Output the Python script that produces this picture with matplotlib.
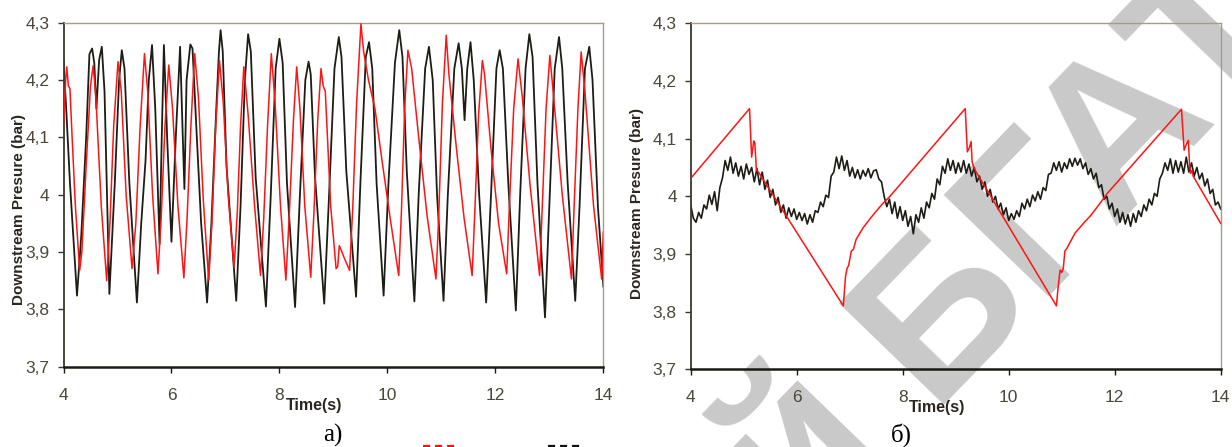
import numpy as np
import matplotlib
matplotlib.use("Agg")
import matplotlib.pyplot as plt
from matplotlib.ticker import FixedLocator, FuncFormatter
from matplotlib.lines import Line2D

W, H = 1232, 447

# ---- panel a): black and red pressure traces (time s, pressure bar)
black_a_t = [4.00, 4.05, 4.12, 4.25, 4.33, 4.42, 4.48, 4.53, 4.57, 4.61, 4.66, 4.71, 4.76, 4.85,
             4.95, 5.03, 5.08, 5.13, 5.22, 5.36, 5.44, 5.52, 5.58, 5.64, 5.70, 5.78, 5.82, 5.86,
             5.92, 6.00, 6.08, 6.16, 6.21, 6.24, 6.28, 6.35, 6.39, 6.47, 6.55, 6.66, 6.74, 6.83,
             6.88, 6.91, 6.95, 7.02, 7.20, 7.28, 7.36, 7.42, 7.47, 7.56, 7.75, 7.84, 7.93, 8.00,
             8.06, 8.14, 8.29, 8.38, 8.48, 8.54, 8.58, 8.66, 8.83, 8.92, 9.02, 9.10, 9.15, 9.24,
             9.42, 9.50, 9.60, 9.66, 9.72, 9.80, 9.93, 10.02, 10.14, 10.22, 10.28, 10.36, 10.50,
             10.58, 10.70, 10.77, 10.84, 10.92, 11.04, 11.12, 11.24, 11.32, 11.38, 11.43, 11.48,
             11.54, 11.60, 11.70, 11.83, 11.92, 12.02, 12.08, 12.14, 12.24, 12.38, 12.46, 12.56,
             12.63, 12.69, 12.78, 12.92, 13.00, 13.10, 13.18, 13.24, 13.34, 13.48, 13.56, 13.66,
             13.74, 13.80, 13.90, 14.00]
black_a_p = [4.235, 4.15, 4.02, 3.824, 3.93, 4.10, 4.245, 4.255, 4.23, 4.15, 4.235, 4.258, 4.18, 3.827,
             4.02, 4.20, 4.252, 4.22, 4.02, 3.812, 3.95, 4.06, 4.20, 4.261, 4.15, 3.914, 4.10, 4.261,
             4.10, 3.918, 4.10, 4.258, 4.10, 4.01, 4.20, 4.262, 4.255, 4.10, 3.95, 3.812, 3.95, 4.15,
             4.25, 4.287, 4.25, 4.05, 3.815, 3.98, 4.20, 4.28, 4.25, 4.03, 3.805, 4.00, 4.22, 4.272,
             4.23, 4.02, 3.804, 4.00, 4.20, 4.232, 4.21, 4.03, 3.81, 4.00, 4.22, 4.275, 4.24, 4.04,
             3.822, 4.02, 4.24, 4.266, 4.22, 4.02, 3.824, 4.02, 4.23, 4.287, 4.24, 4.04, 3.814,
             4.00, 4.22, 4.258, 4.20, 4.00, 3.815, 4.00, 4.22, 4.264, 4.22, 4.13, 4.22,
             4.266, 4.20, 4.00, 3.812, 4.00, 4.22, 4.252, 4.22, 4.02, 3.798, 4.00, 4.22,
             4.28, 4.24, 4.02, 3.786, 3.98, 4.22, 4.275, 4.22, 4.02, 3.815, 3.98, 4.22,
             4.258, 4.20, 3.98, 3.84]

red_a_t = [4.00, 4.04, 4.06, 4.09, 4.12, 4.15, 4.22, 4.30, 4.34, 4.42, 4.50, 4.55, 4.60, 4.70,
           4.80, 4.86, 4.93, 5.01, 5.07, 5.16, 5.27, 5.34, 5.42, 5.50, 5.56, 5.65, 5.75, 5.81,
           5.88, 5.95, 6.02, 6.12, 6.23, 6.29, 6.36, 6.43, 6.50, 6.59, 6.69, 6.75, 6.82, 6.89,
           6.96, 7.05, 7.16, 7.22, 7.28, 7.34, 7.42, 7.54, 7.65, 7.71, 7.78, 7.85, 7.92, 8.02,
           8.12, 8.18, 8.26, 8.32, 8.38, 8.47, 8.58, 8.64, 8.71, 8.77, 8.81, 8.85, 8.95, 9.05,
           9.08, 9.11, 9.20, 9.30, 9.36, 9.43, 9.51, 9.56, 9.65, 9.77, 9.90, 10.05, 10.21,
           10.26, 10.32, 10.38, 10.45, 10.58, 10.74, 10.90, 10.95, 11.02, 11.09, 11.14, 11.28,
           11.42, 11.57, 11.62, 11.69, 11.76, 11.80, 11.92, 12.06, 12.21, 12.26, 12.34, 12.42,
           12.50, 12.64, 12.82, 12.87, 12.94, 13.01, 13.08, 13.24, 13.41, 13.46, 13.53, 13.59,
           13.66, 13.82, 13.97, 14.00]
red_a_p = [4.118, 4.20, 4.223, 4.19, 4.185, 4.12, 3.98, 3.868, 3.90, 4.05, 4.19, 4.225, 4.17, 3.98,
           3.85, 3.95, 4.12, 4.232, 4.18, 4.00, 3.871, 3.95, 4.12, 4.246, 4.18, 4.00, 3.862, 3.96,
           4.12, 4.226, 4.15, 3.98, 3.855, 3.96, 4.12, 4.246, 4.17, 3.99, 3.851, 3.95, 4.12, 4.234,
           4.16, 4.00, 3.873, 3.97, 4.12, 4.223, 4.14, 3.98, 3.859, 3.96, 4.12, 4.246, 4.16, 3.98,
           3.851, 3.96, 4.13, 4.223, 4.15, 3.98, 3.856, 3.97, 4.13, 4.22, 4.19, 4.18, 3.98, 3.871,
           3.875, 3.911, 3.89, 3.868, 3.98, 4.16, 4.298, 4.25, 4.20, 4.15, 4.06, 3.96, 3.859,
           3.97, 4.15, 4.252, 4.22, 4.10, 3.96, 3.853, 3.96, 4.16, 4.278, 4.21, 4.08,
           3.96, 3.859, 3.97, 4.14, 4.234, 4.21, 4.08, 3.95, 3.862, 3.98, 4.15, 4.237,
           4.17, 4.02, 3.859, 3.98, 4.15, 4.243, 4.17, 4.00, 3.853, 3.98, 4.15, 4.249,
           4.18, 3.98, 3.853, 3.935]

# ---- panel б): red sawtooth and noisy black trace
red_b_t = [4.00, 5.11, 5.15, 5.19, 5.21, 5.24, 5.28, 5.32, 6.88, 6.92, 6.95, 6.98, 7.03, 7.07,
           7.12, 7.25, 7.40, 7.60, 7.76, 9.18, 9.22, 9.26, 9.29, 9.31, 9.34, 9.40, 10.90, 10.93,
           10.97, 11.00, 11.03, 11.06, 11.10, 11.25, 11.40, 11.55, 11.70, 11.86, 13.26, 13.31,
           13.35, 13.39, 13.41, 13.43, 13.46, 13.48, 14.00]
red_b_p = [4.031, 4.152, 4.068, 4.096, 4.092, 4.045, 4.042, 4.036, 3.810, 3.860, 3.875, 3.880, 3.905, 3.908,
           3.925, 3.945, 3.963, 3.985, 4.000, 4.152, 4.077, 4.085, 4.095, 4.060, 4.050, 4.040, 3.810, 3.840,
           3.872, 3.868, 3.875, 3.905, 3.910, 3.936, 3.952, 3.967, 3.985, 4.005, 4.151, 4.080,
           4.090, 4.097, 4.060, 4.040, 4.045, 4.035, 3.953]

# black trace sampled every 0.05 s from 4 to 14 s
black_b_p = [
    3.985, 3.962, 3.955, 3.972, 3.962, 3.985, 3.978, 4.002, 3.986, 4.008,
    3.975, 4.015, 4.032, 4.062, 4.045, 4.068, 4.040, 4.058, 4.035, 4.052,
    4.030, 4.056, 4.038, 4.050, 4.025, 4.048, 4.020, 4.042, 4.012, 4.028,
    3.998, 4.012, 3.985, 3.998, 3.972, 3.985, 3.962, 3.980, 3.965, 3.978,
    3.960, 3.972, 3.958, 3.970, 3.952, 3.968, 3.955, 3.975, 3.972, 3.990,
    3.982, 4.002, 3.998, 4.035, 4.042, 4.068, 4.048, 4.070, 4.045, 4.062,
    4.035, 4.050, 4.032, 4.046, 4.030, 4.045, 4.035, 4.048, 4.032, 4.044,
    4.046, 4.030, 4.025, 4.000, 3.982, 3.995, 3.970, 3.990, 3.962, 3.982,
    3.958, 3.975, 3.948, 3.965, 3.935, 3.968, 3.955, 3.980, 3.962, 3.990,
    3.980, 4.005, 3.995, 4.030, 4.020, 4.052, 4.040, 4.065, 4.045, 4.062,
    4.040, 4.058, 4.042, 4.062, 4.040, 4.056, 4.035, 4.050, 4.025, 4.035,
    4.012, 4.025, 4.000, 4.012, 3.990, 4.000, 3.978, 3.988, 3.968, 3.980,
    3.958, 3.970, 3.960, 3.975, 3.965, 3.988, 3.978, 3.995, 3.982, 4.002,
    3.992, 4.008, 3.995, 4.015, 4.010, 4.038, 4.040, 4.058, 4.045, 4.060,
    4.042, 4.058, 4.048, 4.065, 4.052, 4.066, 4.054, 4.065, 4.048, 4.058,
    4.038, 4.048, 4.030, 4.040, 4.015, 4.020, 3.995, 4.000, 3.978, 3.988,
    3.965, 3.978, 3.955, 3.972, 3.952, 3.968, 3.948, 3.970, 3.955, 3.975,
    3.965, 3.985, 3.975, 3.995, 3.985, 4.005, 4.000, 4.030, 4.040, 4.058,
    4.045, 4.065, 4.040, 4.062, 4.042, 4.060, 4.040, 4.068, 4.042, 4.058,
    4.035, 4.050, 4.030, 4.040, 4.018, 4.030, 4.005, 4.012, 3.985, 3.990,
    3.978]
black_b_t = np.linspace(4, 14, len(black_b_p))

x_ticks = [4, 6, 8, 10, 12, 14]
y_ticks = [3.7, 3.8, 3.9, 4.0, 4.1, 4.2, 4.3]

BLACK = "#1e1c14"
RED = "#ff1414"
TICK_C = "#4d4738"
LABEL_C = "#2b2620"


def comma(v, pos):
    return ("%g" % round(v, 1)).replace(".", ",")


def style_axes(ax, lab_x, lab_y, time_x, time_y):
    ax.set_facecolor("none")
    ax.set_xlim(4, 14)
    ax.set_ylim(3.7, 4.3)
    ax.xaxis.set_major_locator(FixedLocator(x_ticks))
    ax.yaxis.set_major_locator(FixedLocator(y_ticks))
    ax.yaxis.set_major_formatter(FuncFormatter(comma))
    for s in ("top", "right"):
        ax.spines[s].set_color("#a39c88")
        ax.spines[s].set_linewidth(1.0)
    ax.spines["left"].set_color("#3a372c")
    ax.spines["left"].set_linewidth(1.3)
    ax.spines["bottom"].set_color("#1a1912")
    ax.spines["bottom"].set_linewidth(1.8)
    ax.tick_params(axis="y", direction="out", length=4, width=1.0, color="#3a372c",
                   pad=6, labelsize=12.5, labelcolor=TICK_C)
    ax.tick_params(axis="x", direction="out", length=4, width=1.0, color="#1a1912",
                   pad=11, labelsize=12.5, labelcolor=TICK_C)
    for lab in ax.get_xticklabels() + ax.get_yticklabels():
        lab.set_family("Liberation Sans")
    ax.set_ylabel("Downstream Presure (bar)", fontsize=11, fontweight="bold",
                  color=LABEL_C, family="Liberation Sans")
    ax.yaxis.set_label_coords(lab_x, lab_y)
    ax.text(time_x, time_y, "Time(s)", transform=ax.transAxes, ha="center", va="center",
            fontsize=11.5, fontweight="bold", color=LABEL_C, family="Liberation Sans")


fig = plt.figure(figsize=(W / 100, H / 100), dpi=100)
fig.patch.set_facecolor("white")

# watermark, drawn behind the axes content
wm = dict(rotation=46, rotation_mode="anchor", va="baseline", fontsize=152,
          fontweight="bold", color="#c9c9c9", family="Liberation Sans", zorder=-1)
fig.text(930 / W, 1 - 405 / H, "БГАТУ", ha="left", **wm)
fig.text(930 / W, 1 - 405 / H, "Репозиторий ", ha="right", **wm)

ax1 = fig.add_axes([63.5 / W, 1 - 366.7 / H, (603.3 - 63.5) / W, (366.7 - 22.7) / H])
ax2 = fig.add_axes([690.7 / W, 1 - 369.3 / H, (1220.7 - 690.7) / W, (369.3 - 23.3) / H])

ax1.plot(black_a_t, black_a_p, color=BLACK, lw=1.3, zorder=2)
ax1.plot(red_a_t, red_a_p, color=RED, lw=1.1, zorder=3)
style_axes(ax1, -0.069, 0.458, 0.465, -0.114)

ax2.plot(black_b_t, black_b_p, color=BLACK, lw=1.2, zorder=2)
ax2.plot(red_b_t, red_b_p, color=RED, lw=1.1, zorder=3)
style_axes(ax2, -0.088, 0.480, 0.465, -0.109)

# captions under the panels
cap = dict(family="Liberation Serif", fontsize=18, ha="center", va="baseline", color="black")
fig.text(333 / W, 1 - 442 / H, "а)", **cap)
fig.text(901 / W, 1 - 442 / H, "б)", **cap)

# cut-off legend strokes at the bottom edge
for x0, x1, c in [(423, 459, "#ff1010"), (548, 584, "#111111")]:
    fig.add_artist(Line2D([x0 / W, x1 / W], [1 - 445.5 / H] * 2, transform=fig.transFigure,
                          color=c, lw=1.6, dashes=(3.2, 2.2)))

fig.savefig("out.png", dpi=100, facecolor="white")
